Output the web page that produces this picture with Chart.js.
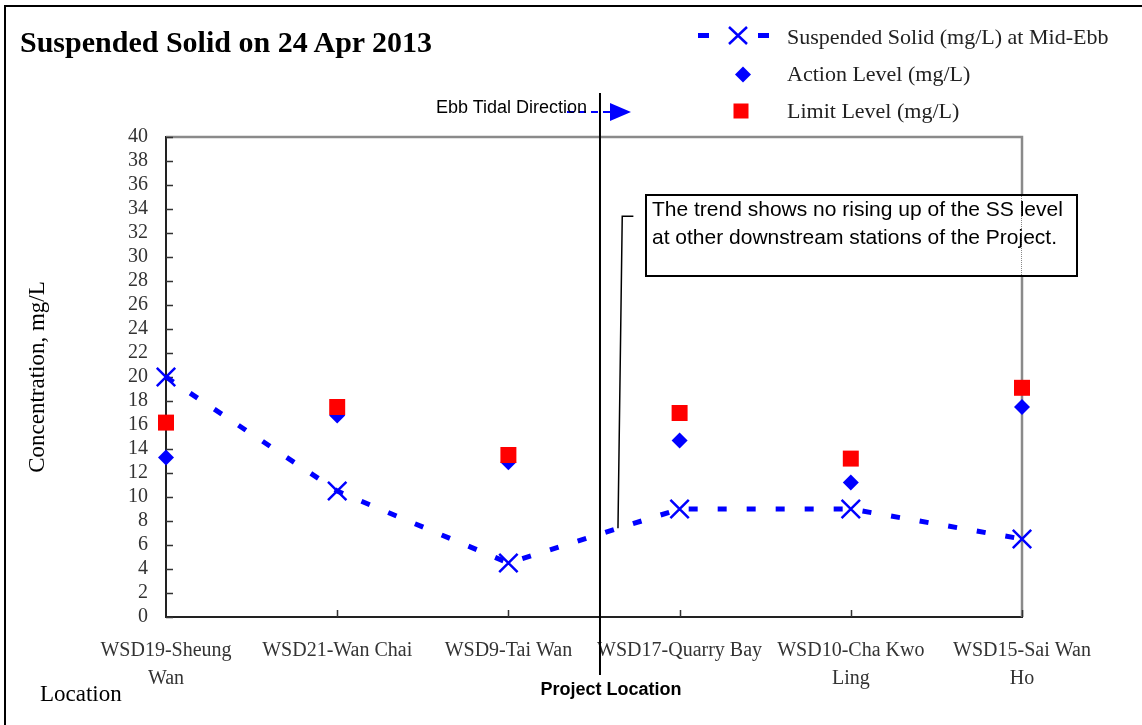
<!DOCTYPE html>
<html>
<head>
<meta charset="utf-8">
<script src="https://cdn.jsdelivr.net/npm/chart.js@4.4.1/dist/chart.umd.min.js"></script>
<style>
  html, body { margin: 0; padding: 0; background: #fff; }
  #wrap { position: relative; width: 1142px; height: 725px; overflow: hidden; background: #fff; }
  #c { position: absolute; left: 0; top: 0; }
  .t { position: absolute; white-space: nowrap; }
  .serif { font-family: "Liberation Serif", "Times New Roman", serif; }
  .sans { font-family: "Liberation Sans", Arial, sans-serif; }
</style>
</head>
<body>
<div id="wrap">
  <canvas id="c" width="1142" height="725"></canvas>
  <div style="position:absolute;left:4px;top:5px;width:1200px;height:718px;border-left:2px solid #000;border-top:2px solid #000;"></div>
  <div class="t serif" style="left:20px;top:27px;font-size:30px;line-height:30px;font-weight:bold;color:#000;">Suspended Solid on 24 Apr 2013</div>
  <div class="t serif" style="left:787px;top:26px;font-size:22px;line-height:22px;color:#222;">Suspended Solid (mg/L) at Mid-Ebb</div>
  <div class="t serif" style="left:787px;top:63px;font-size:22px;line-height:22px;color:#222;">Action Level (mg/L)</div>
  <div class="t serif" style="left:787px;top:100px;font-size:22px;line-height:22px;color:#222;">Limit Level (mg/L)</div>
  <div class="t sans" style="right:555px;top:98px;font-size:18px;line-height:18px;color:#000;text-align:right;">Ebb Tidal Direction</div>
  <div class="t sans" style="left:540px;width:142px;top:680px;font-size:18px;line-height:18px;font-weight:bold;color:#000;text-align:center;">Project Location</div>
  <div class="t serif" style="left:40px;top:682px;font-size:23px;line-height:23px;color:#000;">Location</div>
  <div style="position:absolute;left:645px;top:194px;width:429px;height:79px;border:2px solid #000;background:#fff;"></div>
  <div style="position:absolute;left:1021px;top:196px;width:0;height:79px;border-left:1px dotted #888;"></div>
  <div class="t sans" style="left:652px;top:195px;font-size:21px;line-height:28px;color:#000;">The trend shows no rising up of the SS level<br>at other downstream stations of the Project.</div>
</div>
<script>
// ---- data ----
const categories = [
  ['WSD19-Sheung', 'Wan'],
  'WSD21-Wan Chai',
  'WSD9-Tai Wan',
  'WSD17-Quarry Bay',
  ['WSD10-Cha Kwo', 'Ling'],
  ['WSD15-Sai Wan', 'Ho']
];
const ssMidEbb = [20, 10.5, 4.5, 9, 9, 6.5];
const actionLevel = [13.3, 16.8, 12.9, 14.7, 11.2, 17.5];
const limitLevel = [16.2, 17.5, 13.5, 17.0, 13.2, 19.1];
const yMin = 0, yMax = 40, yStep = 2;

const BLUE = '#0000FF', RED = '#FF0000';

const extras = {
  id: 'extras',
  beforeDatasetsDraw(chart) {
    const { ctx, chartArea: a, scales: { x, y } } = chart;
    ctx.save();
    // gray top and right frame of the plot
    ctx.strokeStyle = '#8a8a8a';
    ctx.lineWidth = 2.5;
    ctx.beginPath();
    ctx.moveTo(a.left, a.top);
    ctx.lineTo(a.right, a.top);
    ctx.lineTo(a.right, a.bottom);
    ctx.stroke();
    // inside tick marks
    ctx.strokeStyle = '#333';
    ctx.lineWidth = 1.5;
    ctx.beginPath();
    y.ticks.forEach((t, i) => {
      const py = Math.round(y.getPixelForTick(i)) + 0.5;
      ctx.moveTo(a.left, py); ctx.lineTo(a.left + 7, py);
    });
    for (let i = 1; i < categories.length; i++) {
      const px = Math.round(x.getPixelForValue(i)) + 0.5;
      ctx.moveTo(px, a.bottom); ctx.lineTo(px, a.bottom - 7);
    }
    ctx.stroke();
    // project location line
    const projX = x.getPixelForValue(2.535);
    ctx.strokeStyle = '#000';
    ctx.lineWidth = 2;
    ctx.beginPath();
    ctx.moveTo(projX, a.top - 44);
    ctx.lineTo(projX, a.bottom + 58);
    ctx.stroke();
    // ebb tidal direction arrow
    const ay = a.top - 25;
    ctx.strokeStyle = BLUE;
    ctx.lineWidth = 2;
    ctx.setLineDash([7, 5]);
    ctx.beginPath();
    ctx.moveTo(projX - 33, ay);
    ctx.lineTo(projX + 10, ay);
    ctx.stroke();
    ctx.setLineDash([]);
    ctx.fillStyle = BLUE;
    ctx.beginPath();
    ctx.moveTo(projX + 10, ay - 9);
    ctx.lineTo(projX + 31, ay);
    ctx.lineTo(projX + 10, ay + 9);
    ctx.closePath();
    ctx.fill();
    // callout leader line
    const lx0 = x.getPixelForValue(2.64), ly0 = y.getPixelForValue(7.4);
    const lx1 = x.getPixelForValue(2.665), ly1 = y.getPixelForValue(33.4);
    const lx2 = x.getPixelForValue(2.73);
    ctx.strokeStyle = '#000';
    ctx.lineWidth = 1.5;
    ctx.beginPath();
    ctx.moveTo(lx0, ly0);
    ctx.lineTo(lx1, ly1);
    ctx.lineTo(lx2, ly1);
    ctx.stroke();
    ctx.restore();
  },
  afterDraw(chart) {
    const { ctx } = chart;
    ctx.save();
    // legend markers
    ctx.fillStyle = BLUE;
    ctx.fillRect(698, 33, 11, 5);
    ctx.fillRect(758, 33, 11, 5);
    ctx.strokeStyle = BLUE;
    ctx.lineWidth = 2.5;
    ctx.beginPath();
    ctx.moveTo(729, 27); ctx.lineTo(747, 44);
    ctx.moveTo(747, 27); ctx.lineTo(729, 44);
    ctx.stroke();
    ctx.beginPath();
    ctx.moveTo(743, 66.5); ctx.lineTo(751, 74.5); ctx.lineTo(743, 82.5); ctx.lineTo(735, 74.5);
    ctx.closePath();
    ctx.fill();
    ctx.fillStyle = RED;
    ctx.fillRect(733.5, 103.5, 15, 15);
    ctx.restore();
  }
};

new Chart(document.getElementById('c'), {
  type: 'line',
  data: {
    labels: categories,
    datasets: [
      {
        label: 'Suspended Solid (mg/L) at Mid-Ebb',
        data: ssMidEbb,
        borderColor: BLUE,
        backgroundColor: BLUE,
        borderWidth: 5,
        borderDash: [9, 20],
        pointStyle: 'crossRot',
        pointRadius: 13,
        pointBorderWidth: 2.5,
        pointBorderColor: BLUE,
        tension: 0,
        fill: false,
        clip: false,
        order: 3
      },
      {
        label: 'Action Level (mg/L)',
        data: actionLevel,
        showLine: false,
        pointStyle: 'rectRot',
        pointRadius: 8,
        pointBorderWidth: 0,
        pointBackgroundColor: BLUE,
        pointBorderColor: BLUE,
        clip: false,
        order: 2
      },
      {
        label: 'Limit Level (mg/L)',
        data: limitLevel,
        showLine: false,
        pointStyle: 'rect',
        pointRadius: 11.3,
        pointBorderWidth: 0,
        pointBackgroundColor: RED,
        pointBorderColor: RED,
        clip: false,
        order: 1
      }
    ]
  },
  options: {
    responsive: false,
    animation: false,
    devicePixelRatio: 1,
    layout: { padding: { left: 20, top: 137, right: 120, bottom: 0 } },
    plugins: {
      legend: { display: false },
      title: { display: false },
      tooltip: { enabled: false }
    },
    scales: {
      x: {
        type: 'category',
        offset: false,
        grid: { display: true, drawOnChartArea: false, drawTicks: false },
        border: { display: true, color: '#222', width: 2 },
        ticks: {
          autoSkip: false,
          maxRotation: 0,
          minRotation: 0,
          padding: 20,
          color: '#333',
          font: { family: '"Liberation Serif", "Times New Roman", serif', size: 20, lineHeight: 1.4 }
        },
        afterFit: s => { s.height = 108; }
      },
      y: {
        min: yMin,
        max: yMax,
        grid: { display: true, drawOnChartArea: false, drawTicks: false },
        border: { display: true, color: '#222', width: 2 },
        ticks: {
          stepSize: yStep,
          autoSkip: false,
          padding: 18,
          color: '#333',
          font: { family: '"Liberation Serif", "Times New Roman", serif', size: 20, lineHeight: 1 }
        },
        title: {
          display: true,
          text: 'Concentration, mg/L',
          color: '#000',
          font: { family: '"Liberation Serif", "Times New Roman", serif', size: 23 }
        },
        afterFit: s => { s.width = 146; }
      }
    }
  },
  plugins: [extras]
});
</script>
</body>
</html>
